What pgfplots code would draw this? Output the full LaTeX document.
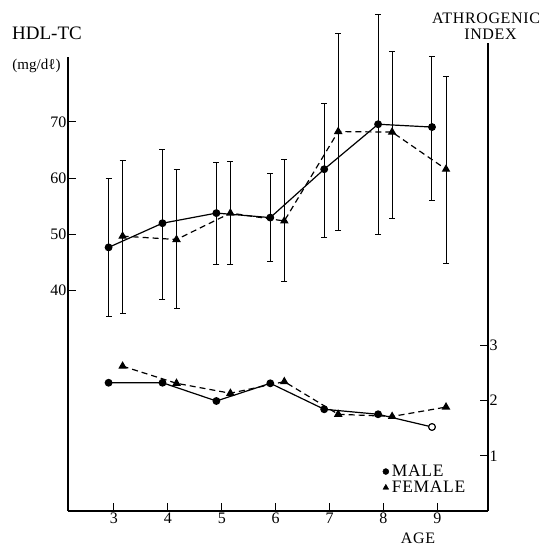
\documentclass[border=0pt]{standalone}
\usepackage{fontspec}
\setmainfont{Liberation Serif}
\newfontfamily\spfont{Liberation Serif}[LetterSpace=4]
\usepackage{pgfplots}
\usepackage{pgfplotstable}
\pgfplotsset{compat=1.18}

\pgfplotstableread{
x y ep em
2.9 47.7 12.3 12.3
3.9 52.0 13.1 13.5
4.9 53.8 9.0 9.1
5.9 53.0 7.9 7.8
6.9 61.6 11.7 12.2
7.9 69.6 19.6 19.6
8.9 69.1 12.5 13.0
}\hdlmale

\pgfplotstableread{
x y ep em
3.16 49.7 13.5 13.7
4.16 49.1 12.4 12.3
5.16 53.8 9.1 9.1
6.16 52.4 10.9 10.7
7.16 68.3 17.5 17.6
8.16 68.2 14.4 15.3
9.16 61.6 16.5 16.7
}\hdlfemale

\pgfplotstableread{
x y
2.9 2.32
3.9 2.32
4.9 1.99
5.9 2.31
6.9 1.84
7.9 1.75
8.9 1.52
}\aimale

\pgfplotstableread{
x y
3.16 2.62
4.16 2.31
5.16 2.13
6.16 2.34
7.16 1.75
8.16 1.71
9.16 1.88
}\aifemale

\begin{document}
\begin{tikzpicture}
\path[use as bounding box] (-68pt,-36pt) rectangle (479pt,511pt);
\begin{axis}[
  at={(0pt,0pt)}, anchor=south west,
  scale only axis, width=420pt, height=454pt,
  xmin=2.147, xmax=9.939, ymin=0.82, ymax=81.56,
  axis lines=left, axis line style={-, line width=1.3pt},
  xtick={3,4,5,6,7,8,9}, ytick={40,50,60,70},
  tick align=inside, major tick length=8pt,
  tick style={line width=1pt, black},
  ticklabel style={font=\fontsize{16}{18}\selectfont},
  yticklabel style={inner sep=1.5pt},
  xticklabel style={inner sep=1.5pt},
  /pgf/number format/assume math mode=true,
  clip=false,
]
\addplot[black, line width=1.2pt, mark=*, mark size=3.3pt,
  error bars/.cd, y dir=both, y explicit,
  error bar style={line width=1pt},
  error mark=|,
  error mark options={line width=1pt, mark size=3pt, black}]
  table[x=x, y=y, y error plus=ep, y error minus=em] {\hdlmale};
\addplot[black, line width=1.2pt, dash pattern=on 6pt off 4pt, mark=triangle*, mark size=3.8pt, mark options={solid},
  error bars/.cd, y dir=both, y explicit,
  error bar style={line width=0.9pt, solid},
  error mark=|,
  error mark options={line width=0.9pt, mark size=3pt, black, solid}]
  table[x=x, y=y, y error plus=ep, y error minus=em] {\hdlfemale};
\end{axis}

\begin{axis}[
  at={(0pt,0pt)}, anchor=south west,
  scale only axis, width=420pt, height=468pt,
  xmin=2.147, xmax=9.939, ymin=0, ymax=8.466,
  axis x line=none, axis y line=right, axis line style={-, line width=1.3pt},
  ytick={1,2,3},
  tick align=inside, major tick length=8pt,
  tick style={line width=1pt, black},
  ticklabel style={font=\fontsize{16}{18}\selectfont},
  yticklabel style={inner sep=1.5pt},
  /pgf/number format/assume math mode=true,
  clip=false,
  legend image code/.code={\draw[#1] plot coordinates {(0pt,0pt)};},
  legend style={draw=none, fill=none, at={(0.742,0.104)}, anchor=north west,
    font=\spfont\fontsize{17.5}{19}\selectfont, row sep=2pt,
    nodes={inner xsep=3pt, inner ysep=0.5pt}},
  legend cell align=left,
]
\addplot[black, line width=1.2pt, mark=*, mark size=3.3pt, forget plot] table[x=x,y=y] {\aimale};
\addplot[black, line width=1.2pt, only marks, mark=*, mark size=3.3pt, mark options={fill=white, line width=1pt}, forget plot] coordinates {(8.9,1.52)};
\addplot[black, line width=1.2pt, dash pattern=on 6pt off 4pt, mark=triangle*, mark size=3.8pt, mark options={solid}, forget plot] table[x=x,y=y] {\aifemale};
\addlegendimage{only marks, mark=*, mark size=3pt, black}
\addlegendentry{MALE}
\addlegendimage{only marks, mark=triangle*, mark size=3.3pt, black}
\addlegendentry{FEMALE}
\end{axis}

\node[font=\fontsize{19}{20}\selectfont] at (-21pt,477.5pt) {HDL-TC};
\node[font=\fontsize{15}{16}\selectfont] at (-31.5pt,445pt) {(mg/dℓ)};
\node[font=\spfont\fontsize{16}{17}\selectfont, inner sep=0pt] at (418pt,493pt) {ATHROGENIC};
\node[font=\spfont\fontsize{16}{17}\selectfont, inner sep=0pt] at (422.5pt,476.5pt) {INDEX};
\node[font=\spfont\fontsize{16}{17}\selectfont, inner sep=0pt] at (350pt,-27pt) {AGE};
\end{tikzpicture}
\end{document}
